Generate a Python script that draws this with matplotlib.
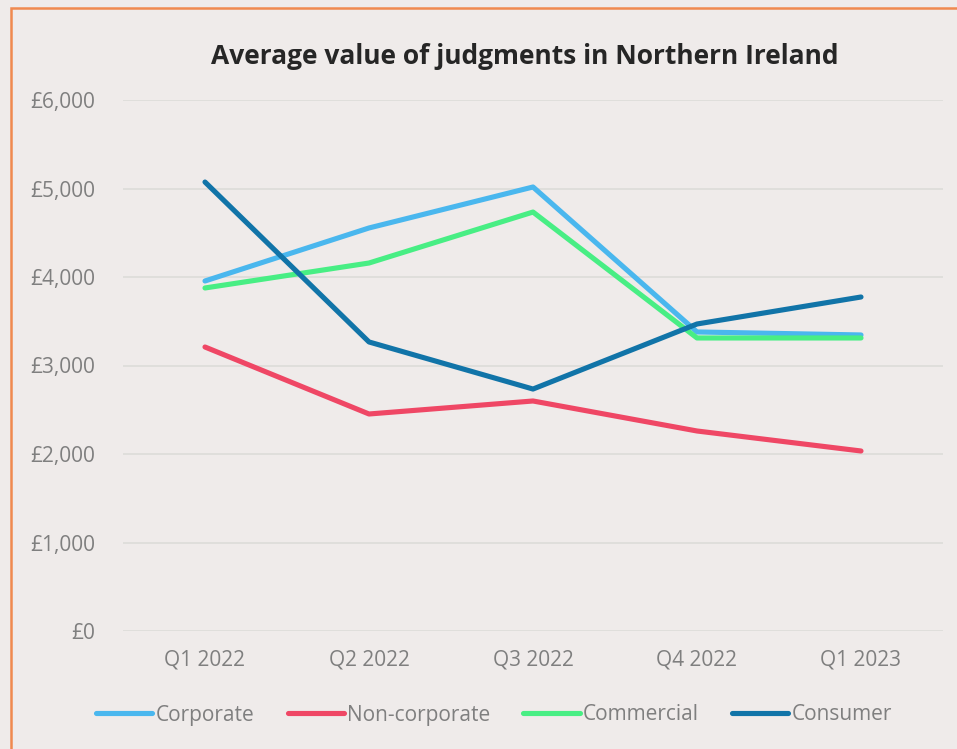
# Average value of judgments in Northern Ireland - line chart
import matplotlib.pyplot as plt
from matplotlib.patches import Rectangle
from matplotlib.ticker import FuncFormatter

quarters = ['Q1 2022', 'Q2 2022', 'Q3 2022', 'Q4 2022', 'Q1 2023']
corporate = [3955, 4554, 5017, 3379, 3345]
non_corporate = [3209, 2452, 2599, 2260, 2034]
commercial = [3876, 4158, 4734, 3311, 3311]
consumer = [5073, 3266, 2734, 3469, 3774]

series = [
    ('Corporate', corporate, '#4AB7EE'),
    ('Non-corporate', non_corporate, '#EF4765'),
    ('Commercial', commercial, '#48EE84'),
    ('Consumer', consumer, '#1174A8'),
]

bg = '#EFEBEA'
grey = '#7F7F7F'
plt.rcParams['font.family'] = ['Open Sans', 'DejaVu Sans']

fig = plt.figure(figsize=(9.57, 7.49), dpi=100, facecolor=bg)
ax = fig.add_axes([123 / 957, 1 - 631 / 749, 820 / 957, 531 / 749])
ax.set_facecolor(bg)

x = range(len(quarters))
for name, vals, col in series:
    ax.plot(x, vals, color=col, lw=3.7, solid_capstyle='round',
            solid_joinstyle='round', label=name)

ax.set_xlim(-0.5, len(quarters) - 0.5)
ax.set_ylim(0, 6000)
ax.set_yticks(range(0, 6001, 1000))
ax.yaxis.set_major_formatter(FuncFormatter(lambda v, p: '£{:,.0f}'.format(v)))
ax.set_xticks(list(x))
ax.set_xticklabels(quarters)
ax.tick_params(axis='both', length=0, colors=grey, labelsize=15)
ax.tick_params(axis='y', pad=20)
ax.tick_params(axis='x', pad=13)
for s in ax.spines.values():
    s.set_visible(False)
ax.grid(axis='y', color='#DEDDDA', lw=1.3)
ax.set_axisbelow(True)

fig.text(525 / 957, 1 - 57 / 749, 'Average value of judgments in Northern Ireland',
         ha='center', va='center', fontsize=19, fontweight='bold', color='#262626')

leg = fig.legend(loc='center', bbox_to_anchor=(494 / 957, 1 - 715 / 749), ncol=4,
                 frameon=False, fontsize=15, handlelength=2.7, handletextpad=0.15,
                 columnspacing=1.6)
for t in leg.get_texts():
    t.set_color(grey)

# orange border around the chart
fig.patches.append(Rectangle((11 / 957, -0.05), 1.0, 1 - 8 / 749 + 0.05,
                             transform=fig.transFigure, fill=False,
                             edgecolor='#F0894F', lw=1.8))

fig.savefig('out.png', dpi=100, facecolor=bg)
